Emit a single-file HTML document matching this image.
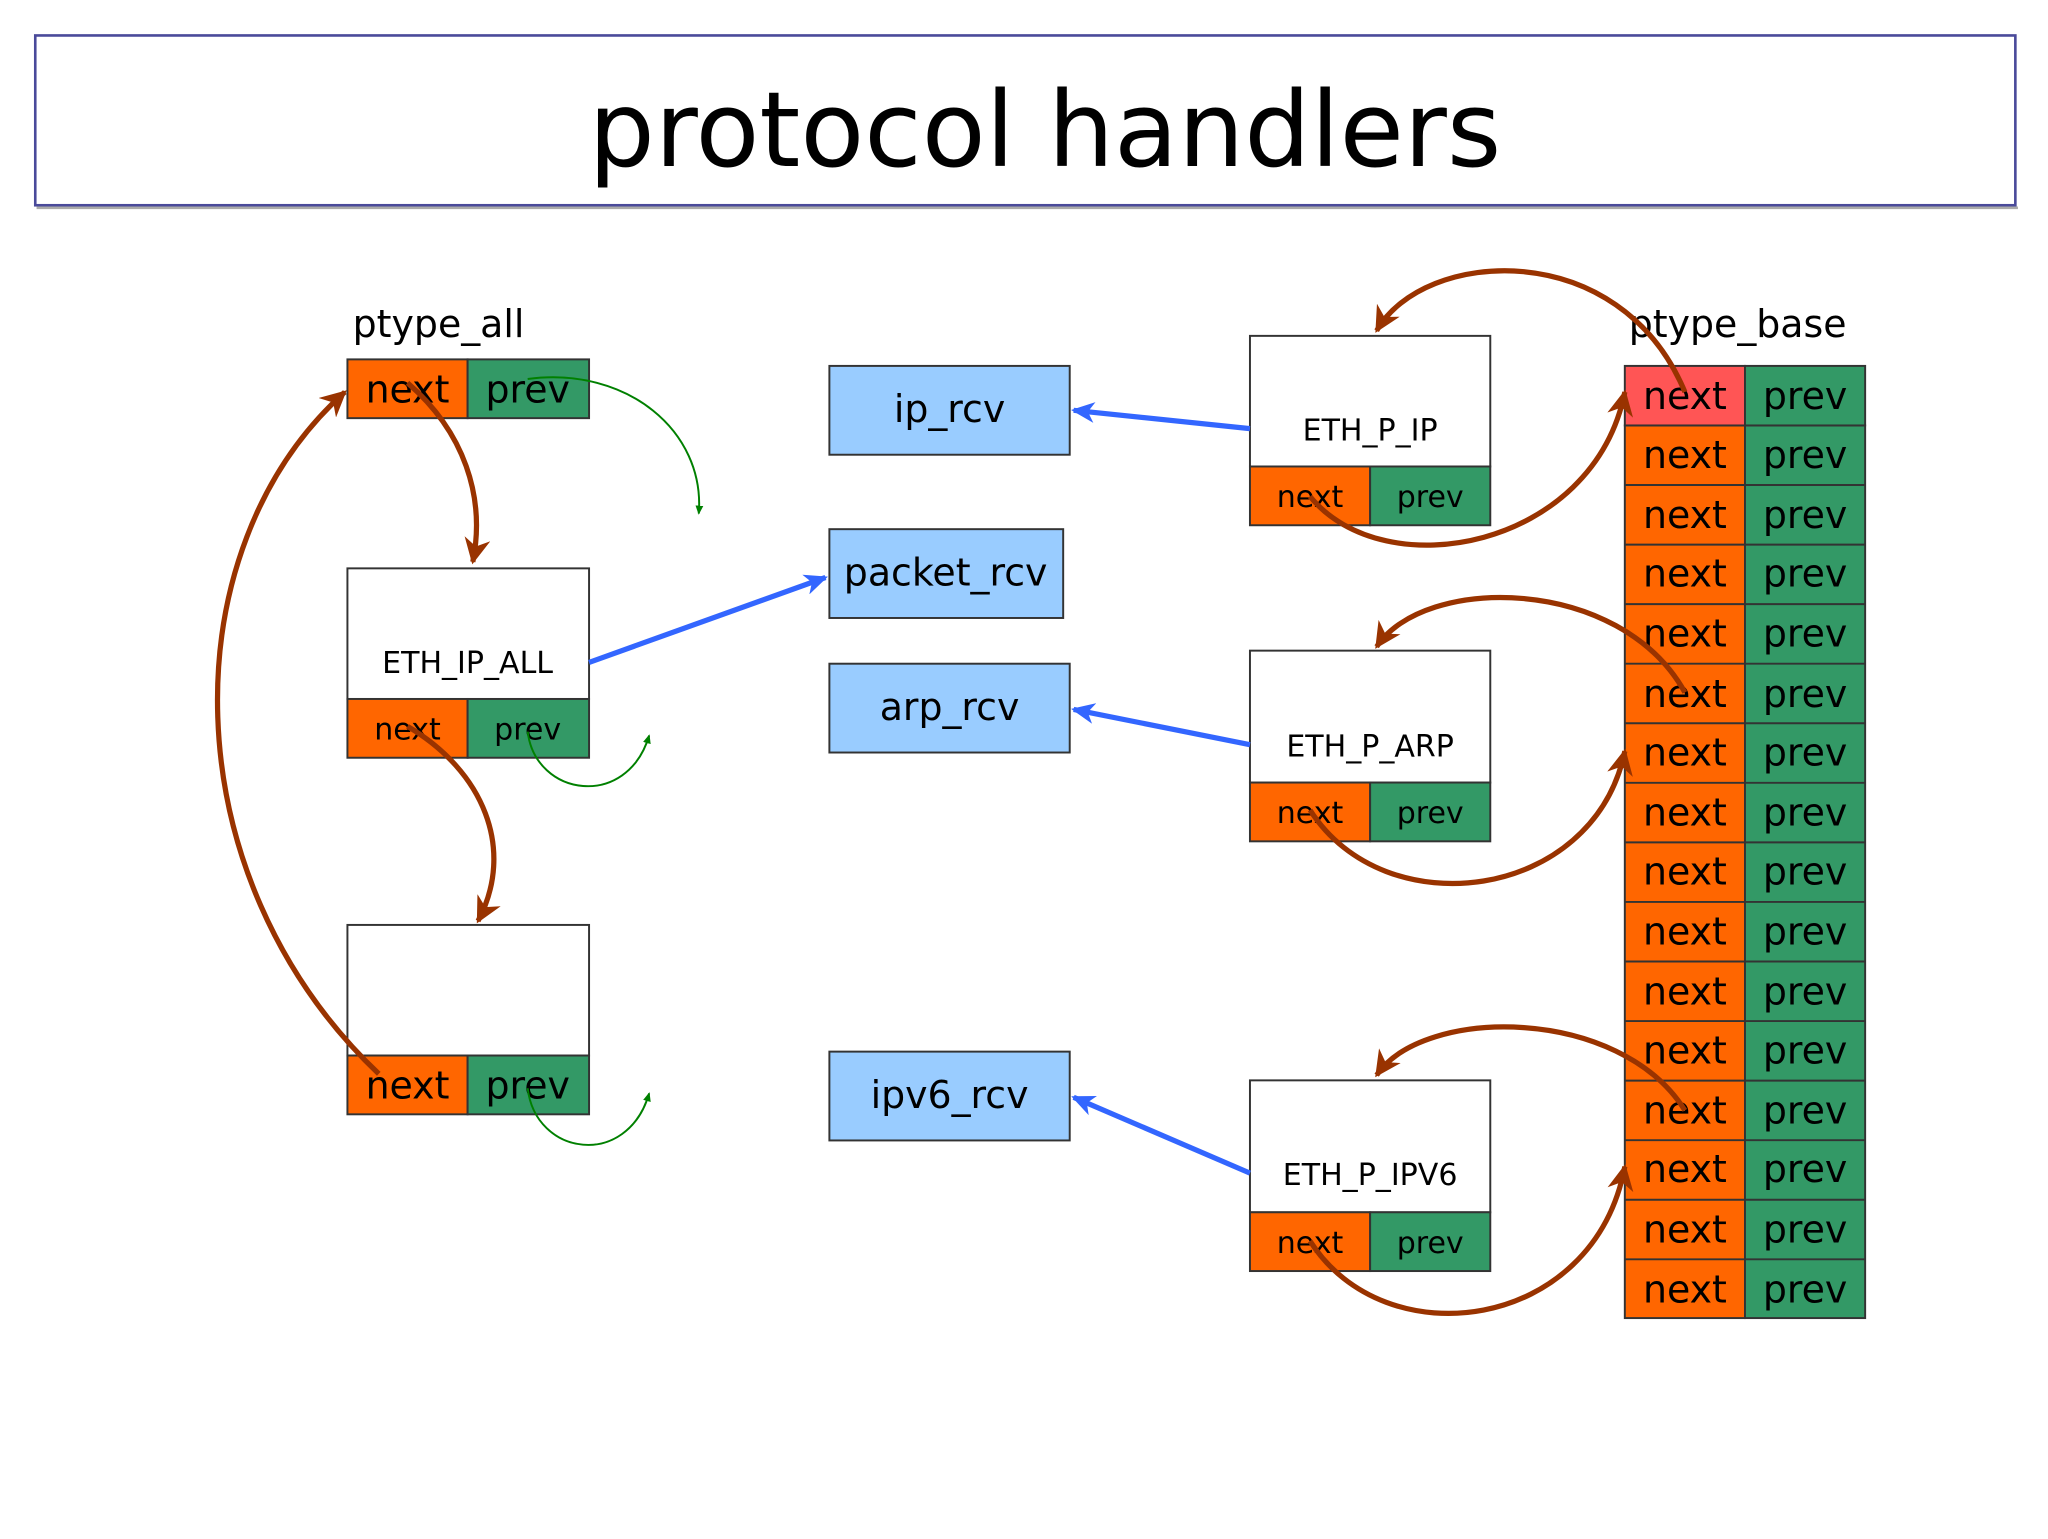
<!DOCTYPE html>
<html><head><meta charset="utf-8"><style>
html,body{margin:0;padding:0;background:#fff;}
svg{display:block;}
text{font-family:"DejaVu Sans","Liberation Sans",sans-serif;}
</style></head><body>
<svg width="2048" height="1539" viewBox="0 0 1568 1178" xmlns="http://www.w3.org/2000/svg">
<defs>
<marker id="bl" markerWidth="20" markerHeight="16" refX="16" refY="8" orient="auto" markerUnits="userSpaceOnUse"><path d="M0,0 L18,8 L0,16 L5,8 Z" fill="#3366ff"/></marker>
<marker id="gr" markerWidth="8" markerHeight="8" refX="6" refY="4" orient="auto" markerUnits="userSpaceOnUse"><path d="M0,1 L7,4 L0,7 Z" fill="#008000"/></marker>
<marker id="bA" markerWidth="24" markerHeight="20" refX="18" refY="10" orient="auto" markerUnits="userSpaceOnUse"><path d="M0,0 L20,10 L0,20 L6,10 Z" fill="#993300"/></marker>
</defs>
<rect x="27" y="27" width="1516" height="130" fill="#fff" stroke="#4a4a9a" stroke-width="2"/>
<line x1="28" y1="159" x2="1545" y2="159" stroke="#aaa" stroke-width="2"/>
<text x="800" y="127" font-size="80" text-anchor="middle">protocol handlers</text>

<text x="270" y="258" font-size="29">ptype_all</text>
<text x="1247" y="258" font-size="29">ptype_base</text>

<g stroke="#333" stroke-width="1.5">
<rect x="266" y="275" width="92" height="45" fill="#ff6600"/><rect x="358" y="275" width="93" height="45" fill="#339966"/>
<rect x="266" y="435" width="185" height="100" fill="#fff"/>
<rect x="266" y="535" width="92" height="45" fill="#ff6600"/><rect x="358" y="535" width="93" height="45" fill="#339966"/>
<rect x="266" y="708" width="185" height="100" fill="#fff"/>
<rect x="266" y="808" width="92" height="45" fill="#ff6600"/><rect x="358" y="808" width="93" height="45" fill="#339966"/>

<rect x="635" y="280" width="184" height="68" fill="#99ccff"/>
<rect x="635" y="405" width="179" height="68" fill="#99ccff"/>
<rect x="635" y="508" width="184" height="68" fill="#99ccff"/>
<rect x="635" y="805" width="184" height="68" fill="#99ccff"/>

<rect x="957" y="257" width="184" height="100" fill="#fff"/>
<rect x="957" y="357" width="92" height="45" fill="#ff6600"/><rect x="1049" y="357" width="92" height="45" fill="#339966"/>
<rect x="957" y="498" width="184" height="101" fill="#fff"/>
<rect x="957" y="599" width="92" height="45" fill="#ff6600"/><rect x="1049" y="599" width="92" height="45" fill="#339966"/>
<rect x="957" y="827" width="184" height="101" fill="#fff"/>
<rect x="957" y="928" width="92" height="45" fill="#ff6600"/><rect x="1049" y="928" width="92" height="45" fill="#339966"/>
</g>
<g font-size="29" text-anchor="middle">
<text x="312" y="308">next</text><text x="404" y="308">prev</text>
<text x="312" y="841">next</text><text x="404" y="841">prev</text>
<text x="727" y="323">ip_rcv</text>
<text x="724" y="448">packet_rcv</text>
<text x="727" y="551">arp_rcv</text>
<text x="727" y="848">ipv6_rcv</text>
</g>
<g font-size="23" text-anchor="middle">
<text x="358" y="515">ETH_IP_ALL</text>
<text x="312" y="566">next</text><text x="404" y="566">prev</text>
<text x="1049" y="337">ETH_P_IP</text>
<text x="1003" y="388">next</text><text x="1095" y="388">prev</text>
<text x="1049" y="579">ETH_P_ARP</text>
<text x="1003" y="630">next</text><text x="1095" y="630">prev</text>
<text x="1049" y="907">ETH_P_IPV6</text>
<text x="1003" y="959">next</text><text x="1095" y="959">prev</text>
</g>
<g stroke="#333" stroke-width="1.5">
<rect x="1244" y="280" width="92" height="45.6" fill="#ff5555"/>
<rect x="1336" y="280" width="92" height="45.6" fill="#339966"/>
<rect x="1244" y="325.6" width="92" height="683.4" fill="#ff6600"/>
<rect x="1336" y="325.6" width="92" height="683.4" fill="#339966"/>
</g>
<g stroke="#333" stroke-width="1.5">
<line x1="1244" y1="325.6" x2="1428" y2="325.6"/><line x1="1244" y1="371.2" x2="1428" y2="371.2"/><line x1="1244" y1="416.8" x2="1428" y2="416.8"/><line x1="1244" y1="462.4" x2="1428" y2="462.4"/><line x1="1244" y1="508" x2="1428" y2="508"/><line x1="1244" y1="553.6" x2="1428" y2="553.6"/><line x1="1244" y1="599.2" x2="1428" y2="599.2"/><line x1="1244" y1="644.8" x2="1428" y2="644.8"/><line x1="1244" y1="690.4" x2="1428" y2="690.4"/><line x1="1244" y1="736" x2="1428" y2="736"/><line x1="1244" y1="781.6" x2="1428" y2="781.6"/><line x1="1244" y1="827.2" x2="1428" y2="827.2"/><line x1="1244" y1="872.8" x2="1428" y2="872.8"/><line x1="1244" y1="918.4" x2="1428" y2="918.4"/><line x1="1244" y1="964" x2="1428" y2="964"/>
</g>
<g font-size="29" text-anchor="middle">
<text x="1290" y="313">next</text><text x="1382" y="313">prev</text>
<text x="1290" y="358">next</text><text x="1382" y="358">prev</text>
<text x="1290" y="404">next</text><text x="1382" y="404">prev</text>
<text x="1290" y="449">next</text><text x="1382" y="449">prev</text>
<text x="1290" y="495">next</text><text x="1382" y="495">prev</text>
<text x="1290" y="541">next</text><text x="1382" y="541">prev</text>
<text x="1290" y="586">next</text><text x="1382" y="586">prev</text>
<text x="1290" y="632">next</text><text x="1382" y="632">prev</text>
<text x="1290" y="677">next</text><text x="1382" y="677">prev</text>
<text x="1290" y="723">next</text><text x="1382" y="723">prev</text>
<text x="1290" y="769">next</text><text x="1382" y="769">prev</text>
<text x="1290" y="814">next</text><text x="1382" y="814">prev</text>
<text x="1290" y="860">next</text><text x="1382" y="860">prev</text>
<text x="1290" y="905">next</text><text x="1382" y="905">prev</text>
<text x="1290" y="951">next</text><text x="1382" y="951">prev</text>
<text x="1290" y="997">next</text><text x="1382" y="997">prev</text>
</g>

<g stroke="#3366ff" stroke-width="4" fill="none">
<line x1="957" y1="328" x2="822" y2="314" marker-end="url(#bl)"/>
<line x1="451" y1="507" x2="632" y2="442" marker-end="url(#bl)"/>
<line x1="957" y1="570" x2="822" y2="543" marker-end="url(#bl)"/>
<line x1="957" y1="898" x2="822" y2="840" marker-end="url(#bl)"/>
</g>

<g stroke="#993300" stroke-width="4" fill="none">
<path d="M312,293 C355,330 372,380 362,430" marker-end="url(#bA)"/>
<path d="M312,556 C370,590 395,650 366,705" marker-end="url(#bA)"/>
<path d="M290,822 C130,670 130,420 264,300" marker-end="url(#bA)"/>
<path d="M1290,300 C1240,180 1090,190 1054,253" marker-end="url(#bA)"/>
<path d="M1003,380 C1060,450 1220,420 1244,300" marker-end="url(#bA)"/>
<path d="M1290,530 C1240,440 1090,440 1054,495" marker-end="url(#bA)"/>
<path d="M1003,620 C1060,710 1220,690 1244,575" marker-end="url(#bA)"/>
<path d="M1290,850 C1240,770 1090,770 1054,823" marker-end="url(#bA)"/>
<path d="M1003,950 C1060,1040 1220,1020 1244,893" marker-end="url(#bA)"/>
</g>

<g stroke="#008000" stroke-width="1.5" fill="none">
<path d="M404,290 C480,280 540,330 535,393" marker-end="url(#gr)"/>
<path d="M404,560 C410,610 480,620 497,563" marker-end="url(#gr)"/>
<path d="M404,833 C410,885 480,895 497,837" marker-end="url(#gr)"/>
</g>
</svg>
</body></html>
